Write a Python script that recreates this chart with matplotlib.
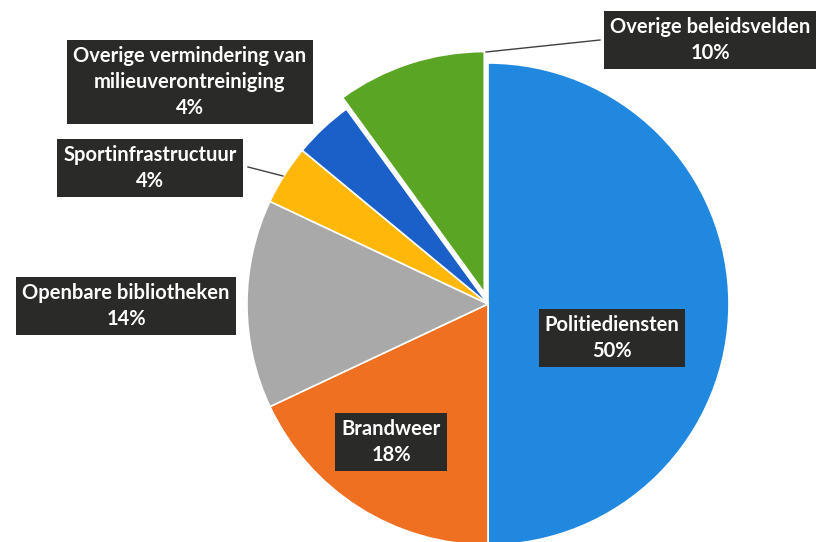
import matplotlib.pyplot as plt

# shares per policy area (percent)
labels = ["Politiediensten", "Brandweer", "Openbare bibliotheken",
          "Sportinfrastructuur", "Overige vermindering van\nmilieuverontreiniging",
          "Overige beleidsvelden"]
values = [50, 18, 14, 4, 4, 10]
colors = ["#2188e0", "#f07022", "#a9a9a9", "#ffb80a", "#1a60c8", "#5ba524"]
explode = [0, 0, 0, 0, 0, 12]  # pie offset is in data units (pixels here)

# label box centres in pixels (x from left, y from top)
label_pos = [(612, 338), (391, 442), (126, 306), (150, 168), (190, 82), (710, 40)]

W, H = 820, 542
fig = plt.figure(figsize=(W / 100, H / 100), dpi=100)
ax = fig.add_axes([0, 0, 1, 1])

cx, cy, r = 488, H - 304, 241
ax.pie(values, colors=colors, explode=explode, startangle=90, counterclock=False,
       center=(cx, cy), radius=r, frame=True,
       wedgeprops=dict(edgecolor="white", linewidth=1.2))
ax.set_xlim(0, W)
ax.set_ylim(0, H)
ax.axis("off")

# leader lines
ax.plot([600, 486], [H - 40, H - 52], color="#404040", lw=1)
ax.plot([248, 283], [H - 167, H - 176], color="#404040", lw=1)

for lab, v, (x, y) in zip(labels, values, label_pos):
    ax.text(x, H - y, f"{lab}\n{v}%", ha="center", va="center", color="white",
            fontsize=14.5, fontweight="bold", family=["Lato", "DejaVu Sans"],
            linespacing=1.4,
            bbox=dict(boxstyle="square,pad=0.3", fc="#2a2a28", ec="none"))

fig.savefig("out.png", dpi=100)
